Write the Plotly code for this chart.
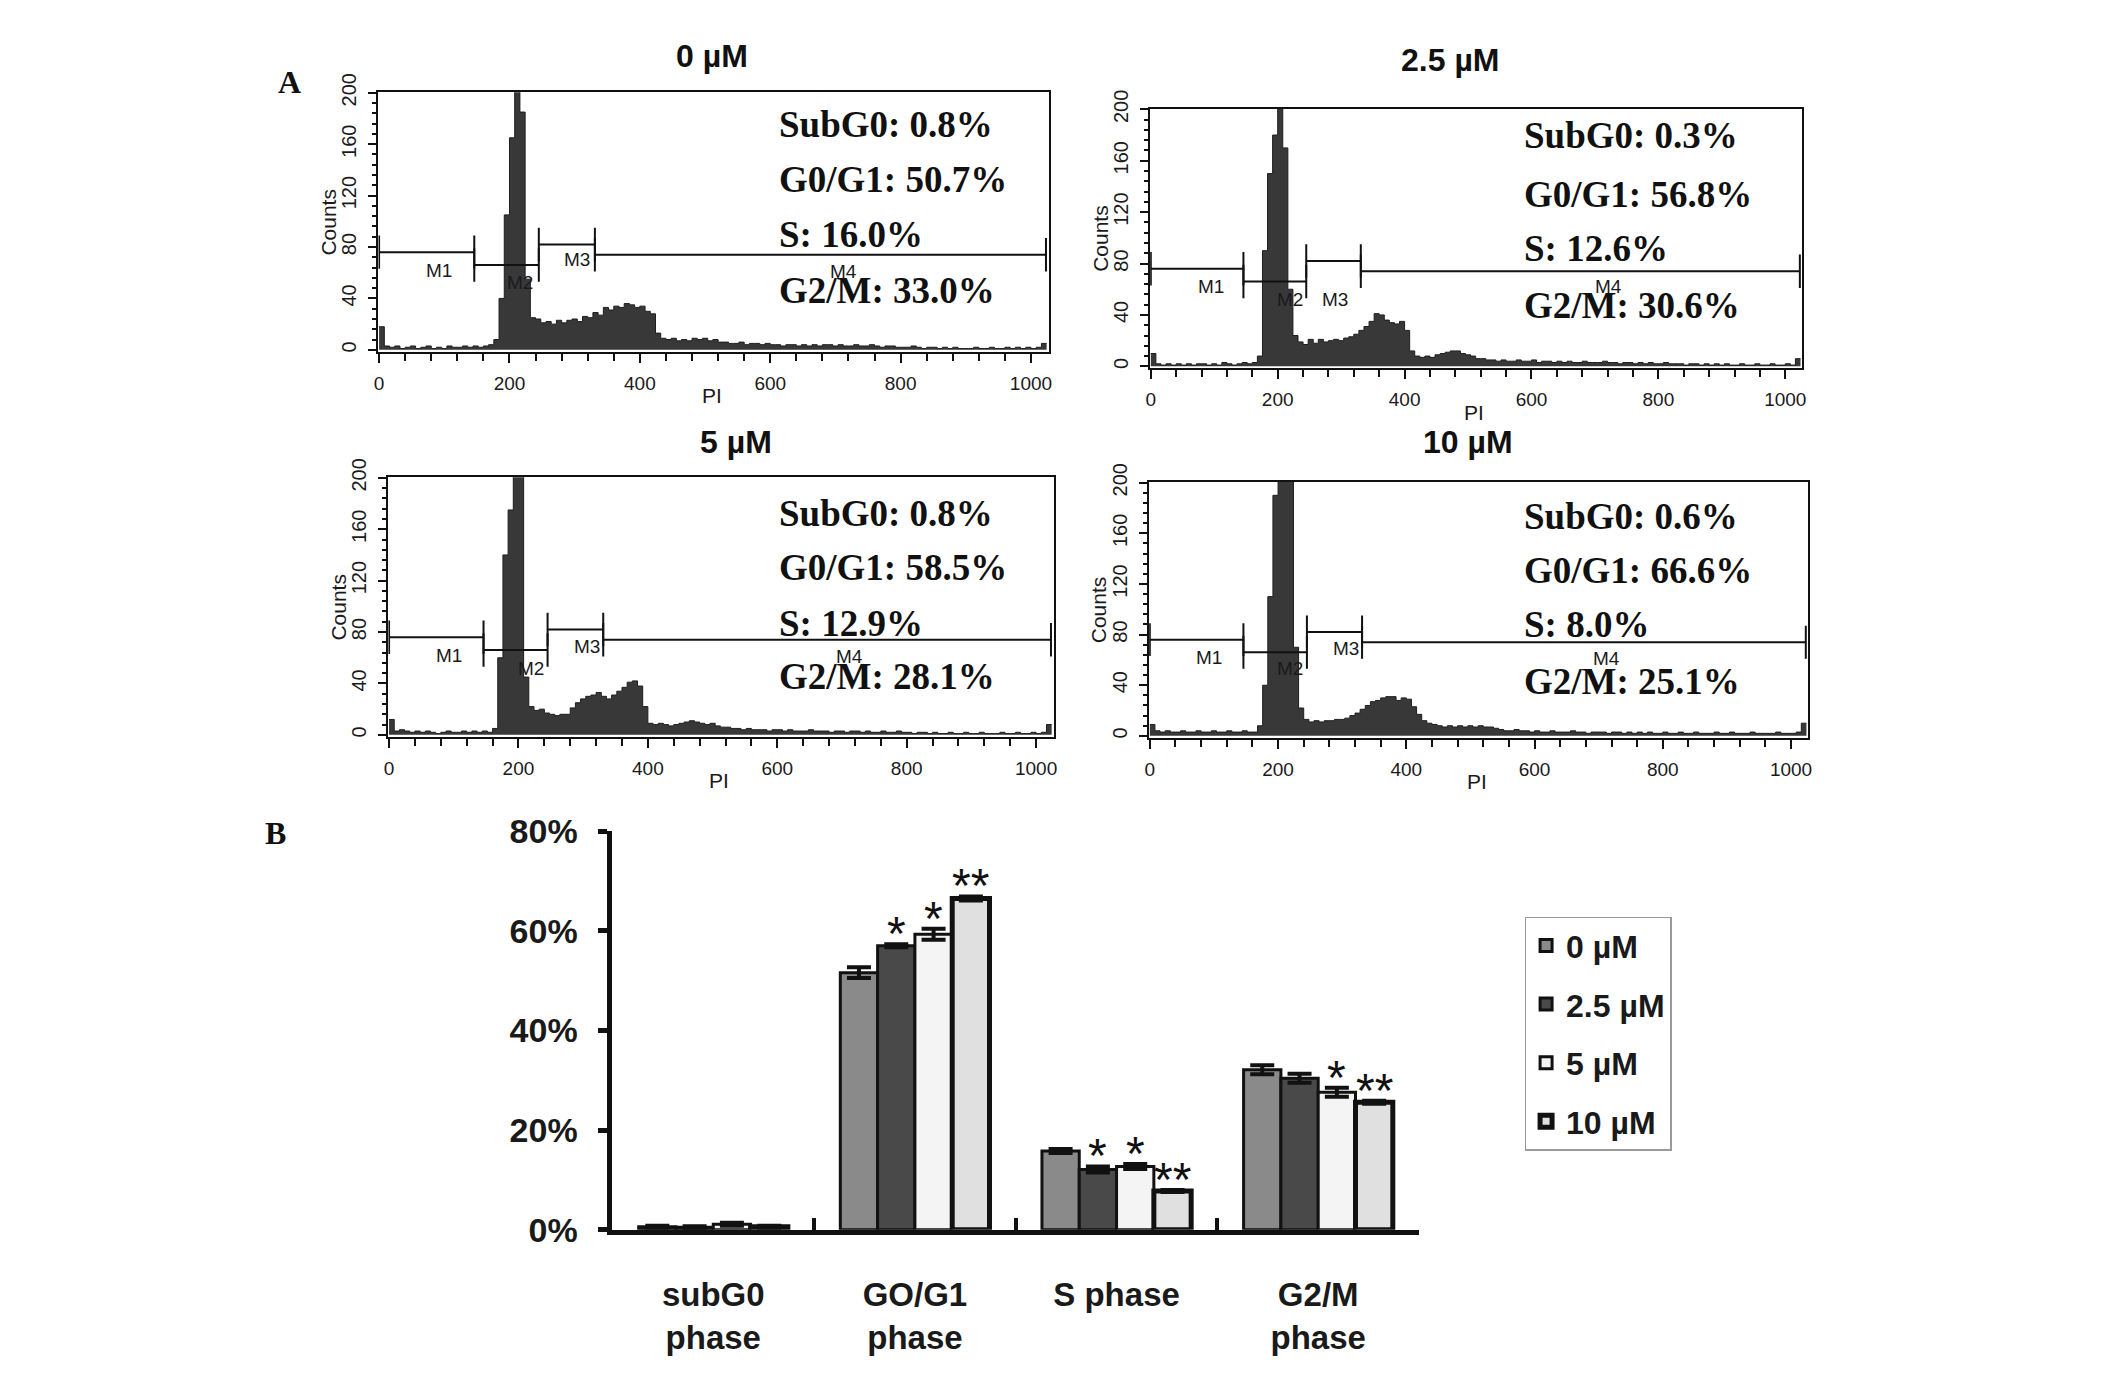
import plotly.graph_objects as go

W, H = 2126, 1373

SANS = "Liberation Sans, Arial, sans-serif"
NARROW = "Liberation Sans Narrow, Liberation Sans, Arial, sans-serif"
SERIF = "Liberation Serif, Times New Roman, serif"

doses = ["0 µM", "2.5 µM", "5 µM", "10 µM"]

# ---- A: PI histograms, counts per 8-channel bin (channels 0-1023)
bin_width = 8
counts_0 = [18, 3, 2, 3, 1, 2, 3, 1,
            2, 3, 1, 2, 1, 3, 2, 2,
            3, 2, 3, 2, 3, 4, 8, 40,
            105, 165, 208, 185, 55, 25, 24, 21,
            22, 20, 23, 21, 23, 24, 22, 26,
            25, 29, 27, 33, 31, 34, 33, 36,
            35, 33, 34, 30, 28, 13, 9, 8,
            9, 7, 8, 7, 9, 8, 9, 7,
            8, 6, 6, 5, 5, 6, 4, 5,
            5, 4, 5, 4, 4, 3, 4, 4,
            3, 4, 3, 4, 3, 4, 4, 3,
            4, 3, 3, 4, 3, 3, 4, 3,
            2, 3, 3, 2, 2, 2, 3, 2,
            1, 2, 2, 1, 2, 1, 2, 1,
            1, 1, 2, 1, 1, 2, 1, 1,
            2, 1, 2, 1, 2, 1, 2, 5]
counts_25 = [10, 2, 1, 2, 1, 2, 1, 2,
             1, 2, 2, 1, 2, 1, 3, 2,
             1, 2, 3, 2, 3, 8, 90, 150,
             180, 225, 170, 60, 24, 19, 17, 21,
             18, 21, 19, 20, 21, 20, 22, 23,
             25, 28, 31, 35, 41, 40, 36, 34,
             33, 35, 28, 12, 8, 7, 8, 7,
             9, 10, 11, 12, 12, 10, 9, 8,
             6, 6, 5, 5, 4, 5, 4, 4,
             5, 4, 4, 5, 3, 4, 4, 3,
             4, 3, 4, 3, 3, 4, 3, 3,
             3, 4, 3, 3, 2, 3, 3, 2,
             3, 2, 3, 2, 2, 3, 2, 2,
             2, 1, 2, 2, 1, 2, 1, 2,
             1, 2, 1, 1, 2, 1, 1, 2,
             1, 1, 2, 1, 1, 2, 1, 6]
counts_5 = [12, 3, 4, 3, 2, 3, 2, 3,
            2, 1, 2, 3, 2, 2, 3, 2,
            3, 2, 3, 2, 5, 60, 140, 175,
            240, 225, 45, 22, 19, 20, 17, 16,
            15, 16, 16, 21, 25, 28, 30, 31,
            33, 30, 28, 31, 34, 37, 41, 42,
            38, 22, 9, 8, 9, 8, 7, 8,
            9, 10, 11, 10, 9, 8, 9, 7,
            6, 6, 5, 5, 4, 5, 4, 4,
            4, 3, 4, 4, 3, 4, 3, 3,
            3, 4, 3, 3, 3, 2, 3, 3,
            2, 3, 3, 2, 3, 2, 2, 3,
            2, 2, 3, 2, 2, 1, 2, 2,
            1, 2, 1, 1, 2, 1, 1, 2,
            1, 1, 2, 1, 1, 1, 2, 1,
            1, 2, 1, 1, 2, 1, 2, 8]
counts_10 = [9, 4, 3, 4, 3, 3, 4, 3,
             3, 4, 3, 3, 4, 3, 3, 4,
             3, 3, 4, 3, 3, 8, 40, 110,
             190, 235, 240, 210, 70, 22, 13, 11,
             12, 11, 12, 12, 13, 13, 14, 16,
             18, 21, 24, 27, 28, 30, 31, 31,
             28, 30, 29, 23, 17, 12, 10, 9,
             8, 7, 8, 7, 8, 7, 8, 7,
             8, 7, 7, 6, 5, 4, 4, 5,
             4, 4, 3, 4, 3, 3, 4, 3,
             3, 3, 4, 3, 3, 2, 3, 3,
             3, 2, 3, 3, 2, 3, 2, 3,
             2, 3, 2, 2, 3, 2, 2, 3,
             2, 2, 3, 2, 2, 2, 3, 2,
             2, 3, 2, 2, 2, 3, 2, 2,
             2, 2, 3, 2, 2, 2, 3, 10]
histograms = [counts_0, counts_25, counts_5, counts_10]

# M1-M4 markers: channel edges and bar heights
gate_names = ["M1", "M2", "M3", "M4"]
gate_edges = [0, 146, 245, 331, 1023]
gate_levels = [76, 66, 82, 74]
gate_label_x = [[92, 216, 304, 712], [95, 220, 290, 722], [92, 219, 306, 712], [92, 218, 306, 712]]
gate_label_y = [[62, 52, 70, 61], [62, 52, 52, 62], [62, 52, 69, 61], [62, 53, 69, 61]]

subg0_pct = [0.8, 0.3, 0.8, 0.6]
g0g1_pct = [50.7, 56.8, 58.5, 66.6]
s_pct = [16.0, 12.6, 12.9, 8.0]
g2m_pct = [33.0, 30.6, 28.1, 25.1]

# ---- B: mean and SD per phase
phases = ["subG0<br>phase", "GO/G1<br>phase", "S phase", "G2/M<br>phase"]
mean_0 = [0.6, 51.6, 15.8, 32.1]
mean_25 = [0.5, 57.0, 12.1, 30.4]
mean_5 = [1.1, 59.3, 12.7, 27.6]
mean_10 = [0.6, 66.5, 7.8, 25.6]
sd_0 = [0.2, 1.1, 0.4, 0.9]
sd_25 = [0.2, 0.3, 0.6, 0.9]
sd_5 = [0.3, 1.1, 0.5, 0.9]
sd_10 = [0.2, 0.4, 0.2, 0.3]
sig_0 = ["", "", "", ""]
sig_25 = ["", "*", "*", ""]
sig_5 = ["", "*", "*", "*"]
sig_10 = ["", "**", "**", "**"]

means = [mean_0, mean_25, mean_5, mean_10]
sds = [sd_0, sd_25, sd_5, sd_10]
sigs = [sig_0, sig_25, sig_5, sig_10]
bar_colors = ["#8a8a8a", "#494949", "#f4f4f4", "#e0e0e0"]
bar_lines = [3, 3, 3, 5]

# pixel geometry of the histogram frames (left, right, top, bottom)
boxes = [(367, 1040, 67, 334), (1142, 1797, 84, 351), (377, 1045, 463, 730), (1141, 1803, 468, 731)]
title_pos = [(702, 30), (1443, 34), (726, 427), (1461, 427)]
stats_pos = [(767, [100, 157, 213, 271]), (1515, [112, 172, 228, 286]),
             (767, [500, 556, 613, 668]), (1515, [503, 559, 614, 673])]


def px(xp, yp):
    return xp / W, 1 - yp / H


fig = go.Figure()
annotations = []
layout = {}

for k in range(4):
    n = "" if k == 0 else str(k + 1)
    xa, ya = "x" + n, "y" + n
    l, r, t, b = boxes[k]
    counts = histograms[k]
    xs = [i * bin_width for i in range(len(counts) + 1)]
    ys = counts + [counts[-1]]
    fig.add_trace(go.Scatter(x=xs, y=ys, xaxis=xa, yaxis=ya, mode="lines",
                             line=dict(shape="hv", color="#1e1e1e", width=1),
                             fill="tozeroy", fillcolor="#383838",
                             showlegend=False, hoverinfo="skip"))
    gx, gy = [], []
    for g in range(4):
        a, e = gate_edges[g], gate_edges[g + 1]
        h = gate_levels[g]
        gx += [a, e, None, a, a, None, e, e, None]
        gy += [h, h, None, h - 13, h + 13, None, h - 13, h + 13, None]
    fig.add_trace(go.Scatter(x=gx, y=gy, xaxis=xa, yaxis=ya, mode="lines",
                             line=dict(color="#111111", width=2),
                             showlegend=False, hoverinfo="skip"))
    for g in range(4):
        annotations.append(dict(x=gate_label_x[k][g], y=gate_label_y[k][g], xref=xa, yref=ya,
                                text=gate_names[g], showarrow=False,
                                xanchor="center", yanchor="middle",
                                font=dict(family=NARROW, size=19, color="#1a1a1a")))

    layout["xaxis" + n] = dict(domain=[l / W, r / W], anchor=ya, range=[-1, 1027],
                               tickmode="linear", tick0=0, dtick=200,
                               ticks="outside", ticklen=9, tickwidth=2, tickcolor="#111111",
                               minor=dict(dtick=40, ticks="outside", ticklen=7, tickwidth=2,
                                          tickcolor="#111111"),
                               showline=True, mirror=True, linewidth=2, linecolor="#111111",
                               showgrid=False, zeroline=False, ticklabelstandoff=4,
                               tickfont=dict(family=NARROW, size=19, color="#1a1a1a"))
    layout["yaxis" + n] = dict(domain=[1 - b / H, 1 - t / H], anchor=xa, range=[-1.5, 200.5],
                               tickmode="linear", tick0=0, dtick=40, tickangle=-90,
                               ticks="outside", ticklen=8, tickwidth=2, tickcolor="#111111",
                               minor=dict(dtick=8, ticks="outside", ticklen=4, tickwidth=1.5,
                                          tickcolor="#111111"),
                               showline=True, mirror=True, linewidth=2, linecolor="#111111",
                               showgrid=False, zeroline=False, ticklabelstandoff=4,
                               tickfont=dict(family=NARROW, size=20, color="#1a1a1a"))

    tx, ty = px(*title_pos[k])
    annotations.append(dict(x=tx, y=ty, xref="paper", yref="paper", text=doses[k],
                            showarrow=False, xanchor="center", yanchor="middle",
                            font=dict(family=SANS, size=32, weight="bold", color="#111111")))
    cx, cy = px(l - 50, (t + b) / 2)
    annotations.append(dict(x=cx, y=cy, xref="paper", yref="paper", text="Counts", textangle=-90,
                            showarrow=False, xanchor="center", yanchor="middle",
                            font=dict(family=NARROW, size=21, color="#1a1a1a")))
    pxx, pyy = px((l + r) / 2 - 2, b + 45)
    annotations.append(dict(x=pxx, y=pyy, xref="paper", yref="paper", text="PI",
                            showarrow=False, xanchor="center", yanchor="middle",
                            font=dict(family=NARROW, size=21, color="#1a1a1a")))
    lines = ["SubG0: %.1f%%" % subg0_pct[k], "G0/G1: %.1f%%" % g0g1_pct[k],
             "S: %.1f%%" % s_pct[k], "G2/M: %.1f%%" % g2m_pct[k]]
    sx, sys_ = stats_pos[k]
    for txt, yy in zip(lines, sys_):
        ax, ay = px(sx, yy)
        annotations.append(dict(x=ax, y=ay, xref="paper", yref="paper", text=txt,
                                showarrow=False, xanchor="left", yanchor="middle",
                                font=dict(family=SERIF, size=37, weight="bold", color="#111111")))

# ---- B: grouped bars
for j in range(4):
    fig.add_trace(go.Bar(x=phases, y=means[j], name=doses[j], xaxis="x5", yaxis="y5",
                         legendgroup=doses[j],
                         marker=dict(color=bar_colors[j], line=dict(color="#111111", width=bar_lines[j])),
                         error_y=dict(type="data", array=sds[j], visible=True, color="#111111",
                                      thickness=4, width=12)))

bar_gap = 0.26
bar_w = (1 - bar_gap) / 4
for j in range(4):
    for c in range(4):
        if sigs[j][c]:
            annotations.append(dict(x=c + (j - 1.5) * bar_w, y=means[j][c] + sds[j][c],
                                    xref="x5", yref="y5", text=sigs[j][c], showarrow=False,
                                    xanchor="center", yanchor="bottom", yshift=-18,
                                    font=dict(family=SANS, size=48, color="#111111")))

layout["xaxis5"] = dict(domain=[602 / W, 1412 / W], anchor="y5", type="category",
                        showline=True, linewidth=5, linecolor="#111111",
                        ticks="inside", tickson="boundaries", ticklen=12, tickwidth=4,
                        tickcolor="#111111", showgrid=False, ticklabelstandoff=32,
                        tickfont=dict(family=SANS, size=33, weight="bold", color="#1a1a1a"))
layout["yaxis5"] = dict(domain=[1 - 1237 / H, 1 - 827 / H], anchor="x5", range=[0, 80],
                        tickmode="linear", tick0=0, dtick=20, ticksuffix="%",
                        showline=True, linewidth=5, linecolor="#111111",
                        ticks="outside", ticklen=9, tickwidth=5, tickcolor="#111111",
                        showgrid=False, zeroline=False, ticklabelstandoff=14,
                        tickfont=dict(family=SANS, size=34, weight="bold", color="#1a1a1a"))

for lab, (lx, ly) in [("A", (278, 57)), ("B", (264, 829))]:
    ax, ay = px(lx, ly)
    annotations.append(dict(x=ax, y=ay, xref="paper", yref="paper", text=lab, showarrow=False,
                            xanchor="center", yanchor="middle",
                            font=dict(family=SERIF, size=32, weight="bold", color="#111111")))

lx, ly = px(1518, 915)
fig.update_layout(
    width=W, height=H, margin=dict(l=0, r=0, t=0, b=0),
    paper_bgcolor="white", plot_bgcolor="white",
    barmode="group", bargap=bar_gap, bargroupgap=0,
    showlegend=True,
    legend=dict(x=lx, y=ly, xanchor="left", yanchor="top", bgcolor="white",
                bordercolor="#9a9a9a", borderwidth=1.5, tracegroupgap=14,
                font=dict(family=SANS, size=32, weight="bold", color="#1a1a1a")),
    annotations=annotations,
    **layout,
)

fig.write_html("out.html")
